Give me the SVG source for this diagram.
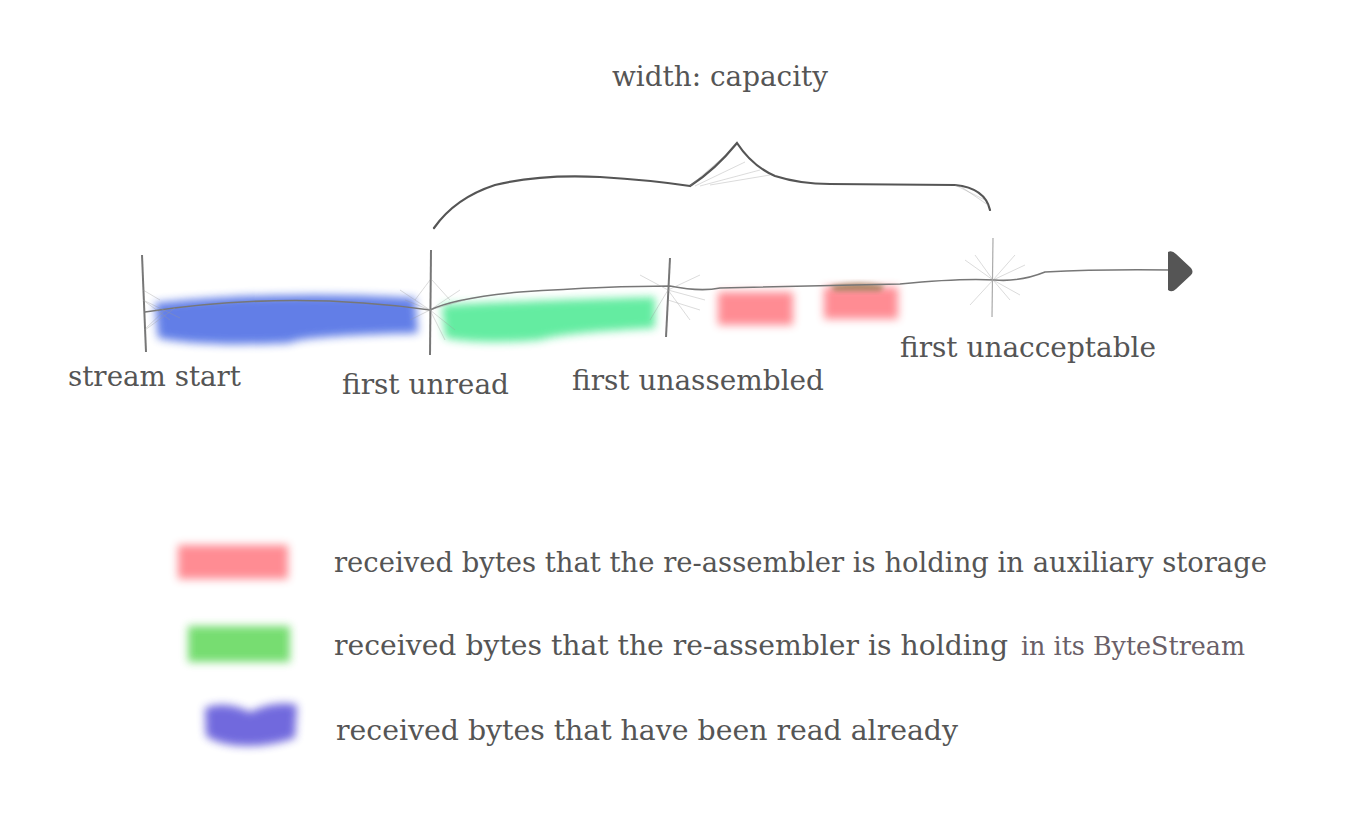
<svg xmlns="http://www.w3.org/2000/svg" width="1354" height="818" viewBox="0 0 1354 818">
<defs>
<style>
.t{font-family:"DejaVu Serif","Liberation Serif",serif;font-size:27.5px;fill:#555}
.tick{stroke:#777;stroke-width:2;fill:none}
.fan{stroke:#999;stroke-width:1;opacity:0.35;fill:none}
.sk{stroke:#555;stroke-width:2.2;fill:none;stroke-linecap:round}
</style>
<filter id="blur" x="-20%" y="-40%" width="140%" height="180%"><feGaussianBlur stdDeviation="4"/></filter>
<filter id="blur2" x="-20%" y="-40%" width="140%" height="180%"><feGaussianBlur stdDeviation="2.5"/></filter>
</defs>
<rect width="1354" height="818" fill="#fff"/>

<g id="caption">
<text class="t" x="612" y="86" textLength="216" lengthAdjust="spacingAndGlyphs">width: capacity</text>
</g>

<g id="segments">
<path d="M155 303 Q280 290 415 298 L418 333 Q300 336 290 343 Q200 347 158 338 Z" fill="#5a78e6" filter="url(#blur)" opacity="0.95"/>
<path d="M442 305 Q540 300 655 297 L655 328 Q560 333 540 340 Q480 345 445 338 Z" fill="#5ceb9c" filter="url(#blur)" opacity="0.95"/>
<rect x="718" y="292" width="75" height="33" fill="#ff8088" filter="url(#blur)" opacity="0.9"/>
<rect x="824" y="287" width="74" height="32" fill="#ff8088" filter="url(#blur)" opacity="0.9"/>
<path d="M830 286 Q860 280 885 286 L880 291 L835 291 Z" fill="#8a6a3a" filter="url(#blur2)" opacity="0.7"/>
</g>

<g id="connectors">
<path d="M145 312 Q290 290 430 310 Q455 298 520 292 Q610 286 670 286 Q700 292 720 288 Q800 286 900 284 Q960 278 995 280 Q1020 282 1045 272 Q1100 269 1172 270" fill="none" stroke="#777" stroke-width="1.6" stroke-linecap="round"/>
<path d="M1168 252 Q1172 250 1176 254 L1191 268 Q1194 272 1191 275 L1176 289 Q1172 293 1168 290 Z" fill="#555"/>
<path class="sk" d="M434 228 Q455 198 495 185 Q540 174 600 177 Q650 180 690 186 Q715 170 737 143 Q752 166 775 176 Q800 184 830 184 L955 185 Q985 188 990 210"/>
<path class="fan" d="M690 186 L720 160 M695 186 L745 162 M700 186 L760 170 M710 185 L770 175 M955 185 L985 200 M960 186 L988 205"/>
</g>

<g id="stream-start">
<line class="tick" x1="142" y1="255" x2="146" y2="352"/>
<path class="fan" d="M143 300 L170 320 M143 300 L180 318 M144 330 L165 310 M145 330 L175 308 M143 290 L160 300"/>
<text class="t" x="68" y="386" textLength="173" lengthAdjust="spacingAndGlyphs">stream start</text>
</g>

<g id="first-unread">
<line class="tick" x1="431" y1="250" x2="430" y2="355" stroke="#666" stroke-width="2.5"/>
<path class="fan" d="M430 310 L400 290 M430 310 L405 300 M430 310 L410 320 M430 310 L460 290 M430 310 L465 300 M430 310 L455 330 M430 310 L445 340 M430 280 L415 300 M432 280 L450 300"/>
<text class="t" x="342" y="394" textLength="167" lengthAdjust="spacingAndGlyphs">first unread</text>
</g>

<g id="first-unassembled">
<line class="tick" x1="670" y1="258" x2="666" y2="337"/>
<path class="fan" d="M668 290 L640 275 M668 290 L700 275 M668 290 L705 300 M668 290 L690 320 M668 290 L650 320 M668 300 L700 310"/>
<text class="t" x="572" y="390" textLength="252" lengthAdjust="spacingAndGlyphs">first unassembled</text>
</g>

<g id="first-unacceptable">
<line x1="993" y1="238" x2="992" y2="317" stroke="#aaa" stroke-width="1.2"/>
<path class="fan" d="M993 280 L965 260 M993 280 L975 255 M993 280 L1015 255 M993 280 L1025 265 M993 280 L1010 300 M993 280 L1020 295 M993 280 L970 305"/>
<text class="t" x="900" y="357" textLength="256" lengthAdjust="spacingAndGlyphs">first unacceptable</text>
</g>

<g id="legend-aux">
<rect x="178" y="545" width="110" height="34" fill="#ff8088" filter="url(#blur)" opacity="0.9"/>
<text class="t" x="334" y="572" textLength="933" lengthAdjust="spacingAndGlyphs">received bytes that the re-assembler is holding in auxiliary storage</text>
</g>
<g id="legend-bytestream">
<rect x="188" y="626" width="102" height="36" fill="#6fdc6a" filter="url(#blur)" opacity="0.95"/>
<text class="t" x="334" y="655" textLength="674" lengthAdjust="spacingAndGlyphs">received bytes that the re-assembler is holding</text>
<text x="1021" y="655" textLength="224" lengthAdjust="spacingAndGlyphs" fill="#6a5f68" font-family="'DejaVu Serif','Liberation Serif',serif" font-size="26">in its ByteStream</text>
</g>
<g id="legend-read">
<path d="M205 708 Q225 700 250 712 Q275 700 297 705 L295 738 Q270 746 250 746 Q220 746 206 736 Z" fill="#6a62dc" filter="url(#blur)" opacity="0.95"/>
<text class="t" x="336" y="740" textLength="622" lengthAdjust="spacingAndGlyphs">received bytes that have been read already</text>
</g>
</svg>
